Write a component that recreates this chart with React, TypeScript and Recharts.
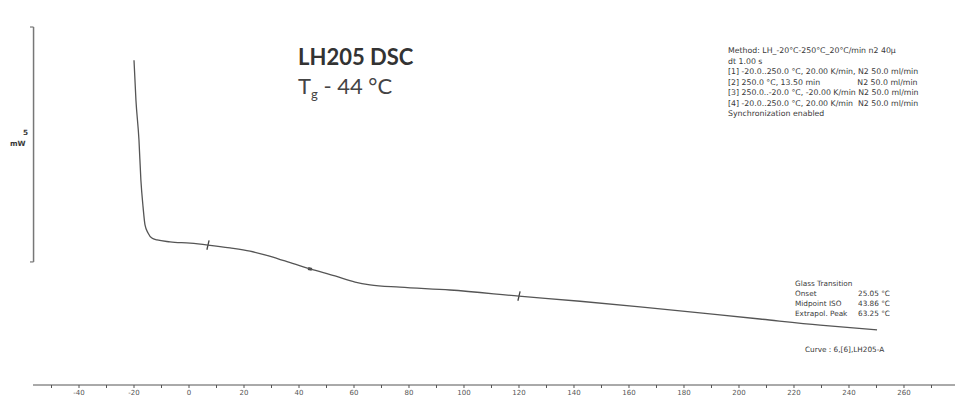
import { LineChart, Line, XAxis, YAxis, ReferenceLine } from 'recharts';

// DSC heating curve
const temperature = [
  -20, -19.3, -18.2, -17.5, -16.7, -16.0, -14.9, -13.5, -11.6, -6.9, 0.4, 6.9, 14.9, 22.2,
  27.6, 34.9, 44.0, 53.1, 60.4, 65.8, 76.7, 94.9, 120.0, 142.2, 164.0, 185.8, 207.6, 229.5, 250.2,
];
const heatFlow = [
  6.94, 6.09, 5.24, 4.38, 3.80, 3.42, 3.25, 3.14, 3.10, 3.06, 3.03, 2.99, 2.93, 2.86,
  2.78, 2.65, 2.48, 2.33, 2.20, 2.14, 2.09, 2.03, 1.90, 1.79, 1.67, 1.54, 1.41, 1.28, 1.18,
];

// evaluation markers: limits and midpoint
const limitTemps = [6.9, 120.0];
const midpointTemp = 44.0;

const xTicks = [-50, -40, -30, -20, -10, 0, 10, 20, 30, 40, 50, 60, 70, 80, 90, 100, 110, 120,
  130, 140, 150, 160, 170, 180, 190, 200, 210, 220, 230, 240, 250, 260, 270];

const methodLines = [
  'Method: LH_-20°C-250°C_20°C/min n2 40µ',
  'dt 1.00 s',
  '[1] -20.0..250.0 °C, 20.00 K/min, N2 50.0 ml/min',
  '[2] 250.0 °C, 13.50 min               N2 50.0 ml/min',
  '[3] 250.0..-20.0 °C, -20.00 K/min N2 50.0 ml/min',
  '[4] -20.0..250.0 °C, 20.00 K/min  N2 50.0 ml/min',
  'Synchronization enabled',
];

const glassLabels = ['Onset', 'Midpoint ISO', 'Extrapol. Peak'];
const glassValues = ['25.05 °C', '43.86 °C', '63.25 °C'];

const data = temperature.map((t, i) => ({ t, hf: heatFlow[i] }));

const X_MIN = -56.73;
const X_MAX = 278.55;
const BAR_TOP = 7.65;
const BAR_BOTTOM = 2.63;

function valueAt(t: number) {
  for (let i = 1; i < temperature.length; i++) {
    if (t <= temperature[i]) {
      const f = (t - temperature[i - 1]) / (temperature[i] - temperature[i - 1]);
      return heatFlow[i - 1] + f * (heatFlow[i] - heatFlow[i - 1]);
    }
  }
  return heatFlow[heatFlow.length - 1];
}

const small = { fontFamily: 'DejaVu Sans', fontSize: 7.3, fill: '#3a3a3a' };

export default function App() {
  const grey = '#555';
  return (
    <div style={{ position: 'absolute', left: 0, top: 0, width: 955, height: 399, background: '#fff' }}>
      <LineChart width={955} height={399} data={data} margin={{ top: 20, right: 0, left: 33, bottom: 0 }}>
        <XAxis
          dataKey="t"
          type="number"
          domain={[X_MIN, X_MAX]}
          allowDataOverflow
          ticks={xTicks}
          interval={0}
          height={14}
          tickSize={3}
          tickMargin={2}
          stroke={grey}
          tick={{ fill: '#555', fontSize: 7, fontFamily: 'DejaVu Sans' }}
          tickFormatter={(v: number) => (v % 20 === 0 ? String(v) : '')}
        />
        <YAxis hide domain={[0, 7.8]} allowDataOverflow />
        {/* scale bar */}
        <ReferenceLine segment={[{ x: X_MIN + 0.2, y: BAR_TOP }, { x: X_MIN + 0.2, y: BAR_BOTTOM }]} stroke="#777" strokeWidth={1.5} ifOverflow="visible" />
        <ReferenceLine segment={[{ x: X_MIN - 1.1, y: BAR_TOP }, { x: X_MIN + 0.2, y: BAR_TOP }]} stroke="#777" strokeWidth={1.2} ifOverflow="visible" />
        <ReferenceLine segment={[{ x: X_MIN - 1.1, y: BAR_BOTTOM }, { x: X_MIN + 0.2, y: BAR_BOTTOM }]} stroke="#777" strokeWidth={1.2} ifOverflow="visible" />
        {limitTemps.map((t) => (
          <ReferenceLine
            key={t}
            segment={[{ x: t - 0.4, y: valueAt(t) - 0.1 }, { x: t + 0.4, y: valueAt(t) + 0.1 }]}
            stroke="#444"
            strokeWidth={1.3}
          />
        ))}
        <ReferenceLine
          segment={[{ x: midpointTemp - 0.7, y: valueAt(midpointTemp) + 0.01 }, { x: midpointTemp + 0.7, y: valueAt(midpointTemp) - 0.01 }]}
          stroke="#444"
          strokeWidth={3}
        />
        <Line type="monotone" dataKey="hf" stroke={grey} strokeWidth={1.3} dot={false} isAnimationActive={false} />
      </LineChart>
      <svg width={955} height={399} style={{ position: 'absolute', left: 0, top: 0, pointerEvents: 'none' }}>
        <text x={298} y={65} fontFamily="Lato" fontWeight={700} fontSize={22} fill="#333">LH205 DSC</text>
        <text x={298} y={94} fontFamily="Lato" fontSize={22} fill="#444">
          T<tspan fontSize={13} dy={5}>g</tspan><tspan dy={-5}> - 44 °C</tspan>
        </text>
        <text x={23} y={135} {...small} fontWeight={700}>5</text>
        <text x={10} y={146} {...small} fontWeight={700}>mW</text>
        {methodLines.map((l, i) => (
          <text key={i} x={728} y={53 + i * 10.5} {...small} fontSize={7.8} style={{ whiteSpace: 'pre' }}>{l}</text>
        ))}
        <text x={795} y={286} {...small}>Glass Transition</text>
        {glassLabels.map((l, i) => (
          <g key={l}>
            <text x={795} y={296 + i * 10} {...small}>{l}</text>
            <text x={858} y={296 + i * 10} {...small}>{glassValues[i]}</text>
          </g>
        ))}
        <text x={805} y={352} {...small}>Curve : 6,[6],LH205-A</text>
      </svg>
    </div>
  );
}
